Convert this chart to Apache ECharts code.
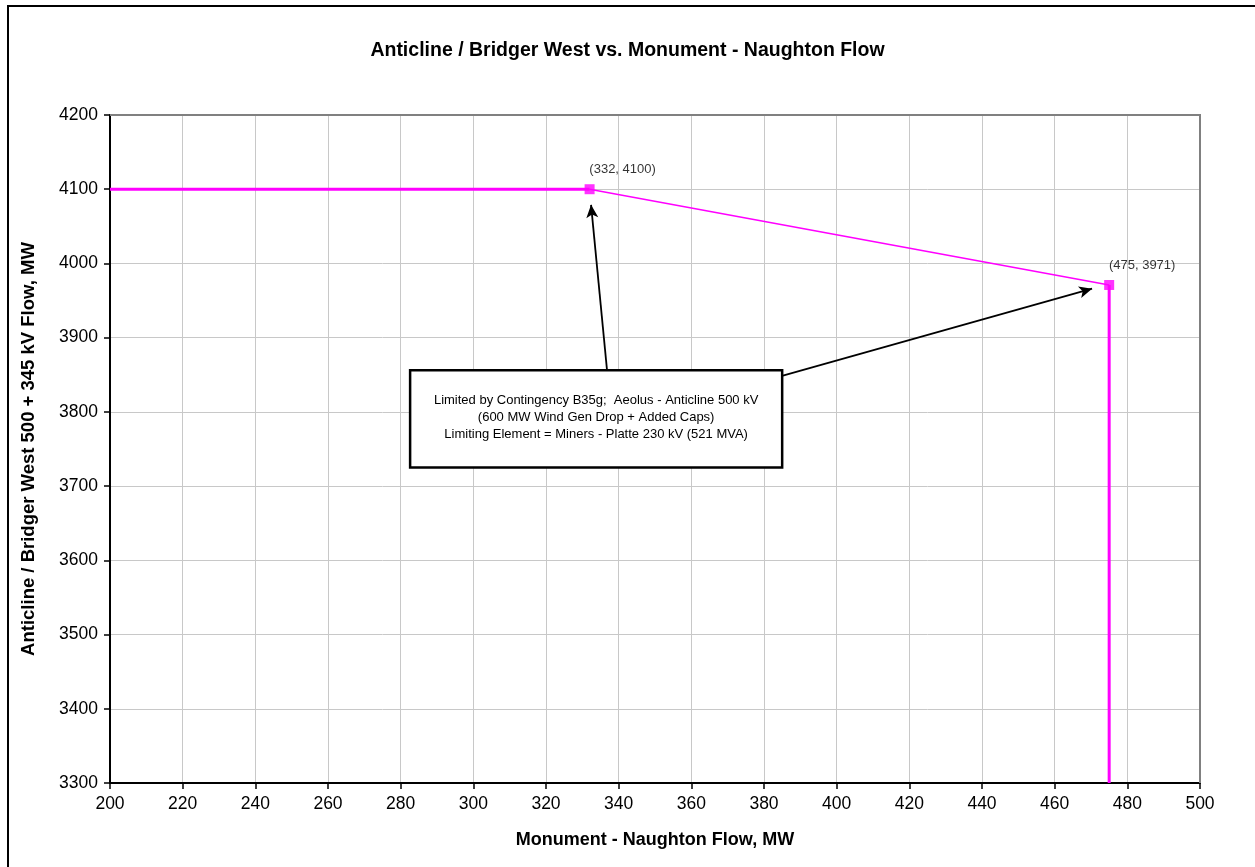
<!DOCTYPE html>
<html>
<head>
<meta charset="utf-8">
<script src="https://cdn.jsdelivr.net/npm/echarts@6/dist/echarts.min.js"></script>
<style>
  html, body { margin: 0; padding: 0; background: #fff; }
  #chart { width: 1255px; height: 867px; }
</style>
</head>
<body>
<div id="chart"></div>
<script>
// limit curve pieces
const flatSegment = [[200, 4100], [332, 4100]];
const slopeSegment = [[332, 4100], [475, 3971]];
const dropSegment = [[475, 3971], [475, 3300]];
const cornerPoints = [[332, 4100], [475, 3971]];
const cornerLabels = ['(332, 4100)', '(475, 3971)'];

// annotation: arrows (tail -> head, data coords) and text box
const arrowLines = [
  [[336.8, 3856], [332.4, 4079]],
  [[385.2, 3849], [470.3, 3966]]
];
const noteBox = [[282.6, 3856], [385.0, 3725]];
const noteLines = [
  'Limited by Contingency B35g;  Aeolus - Anticline 500 kV',
  '(600 MW Wind Gen Drop + Added Caps)',
  'Limiting Element = Miners - Platte 230 kV (521 MVA)'
];

const FONT = '"Liberation Sans", Arial, sans-serif';
const PINK = '#ff00ff';
const plain = v => String(v);

const chart = echarts.init(document.getElementById('chart'));

const option = {
  animation: false,
  textStyle: { fontFamily: FONT },
  title: {
    text: 'Anticline / Bridger West vs. Monument - Naughton Flow',
    left: 'center',
    top: 36,
    textStyle: { fontFamily: FONT, fontSize: 19.5, fontWeight: 'bold', color: '#000' }
  },
  grid: { left: 110, right: 55, top: 115, bottom: 84, show: false },
  xAxis: {
    type: 'value',
    min: 200, max: 500, interval: 20,
    name: 'Monument - Naughton Flow, MW',
    nameLocation: 'middle',
    nameGap: 48,
    nameTextStyle: { fontFamily: FONT, fontSize: 18, fontWeight: 'bold', color: '#000' },
    axisLine: { show: true, onZero: false, lineStyle: { color: '#000', width: 2 } },
    axisTick: { show: true, length: 6, lineStyle: { color: '#000', width: 1.5 } },
    axisLabel: { fontFamily: FONT, fontSize: 17.5, color: '#000', margin: 12, formatter: plain },
    splitLine: { show: true, lineStyle: { color: '#c8c8c8', width: 1 } }
  },
  yAxis: {
    type: 'value',
    min: 3300, max: 4200, interval: 100,
    name: 'Anticline / Bridger West 500 + 345 kV Flow, MW',
    nameLocation: 'middle',
    nameGap: 72,
    nameTextStyle: { fontFamily: FONT, fontSize: 18.5, fontWeight: 'bold', color: '#000' },
    axisLine: { show: true, onZero: false, lineStyle: { color: '#000', width: 2 } },
    axisTick: { show: true, length: 6, lineStyle: { color: '#000', width: 1.5 } },
    axisLabel: { fontFamily: FONT, fontSize: 17.5, color: '#000', margin: 12, formatter: plain },
    splitLine: { show: true, lineStyle: { color: '#c8c8c8', width: 1 } }
  },
  series: [
    {
      type: 'line', data: flatSegment, showSymbol: false, symbol: 'none',
      lineStyle: { color: PINK, width: 3 }, z: 3
    },
    {
      type: 'line', data: slopeSegment, showSymbol: false, symbol: 'none',
      lineStyle: { color: PINK, width: 1.5 }, z: 3
    },
    {
      type: 'line', data: dropSegment, showSymbol: false, symbol: 'none',
      lineStyle: { color: PINK, width: 3 }, z: 3
    },
    {
      type: 'scatter',
      data: cornerPoints.map((p, i) => ({ value: p, label: { formatter: cornerLabels[i] } })),
      symbol: 'rect',
      symbolSize: 10,
      itemStyle: { color: PINK },
      z: 4,
      label: {
        show: true,
        position: 'top',
        offset: [33, -3],
        fontFamily: FONT,
        fontSize: 13,
        color: '#000'
      }
    },
    {
      type: 'line', data: [], z: 5,
      markLine: {
        silent: true,
        symbol: ['none', 'arrow'],
        symbolSize: [9, 13],
        label: { show: false },
        lineStyle: { color: '#000', width: 1.8, type: 'solid' },
        data: arrowLines.map(a => [{ coord: a[0] }, { coord: a[1] }])
      }
    }
  ]
};

chart.setOption(option);

// plot frame, outer border and note box positioned from data/grid
const p0 = chart.convertToPixel('grid', noteBox[0]);
const p1 = chart.convertToPixel('grid', noteBox[1]);
const tl = chart.convertToPixel('grid', [200, 4200]);
const br = chart.convertToPixel('grid', [500, 3300]);
const cx = (p0[0] + p1[0]) / 2;
const cy = (p0[1] + p1[1]) / 2;

chart.setOption({
  graphic: [
    {
      type: 'rect',
      shape: { x: 8, y: 6, width: 1260, height: 880 },
      style: { fill: 'none', stroke: '#000', lineWidth: 2 },
      silent: true
    },
    {
      type: 'polyline',
      shape: { points: [[tl[0], tl[1]], [br[0], tl[1]], [br[0], br[1]]] },
      style: { fill: 'none', stroke: '#808080', lineWidth: 2 },
      silent: true, z: 1
    },
    {
      type: 'rect',
      shape: { x: p0[0], y: p0[1], width: p1[0] - p0[0], height: p1[1] - p0[1] },
      style: { fill: '#fff', stroke: '#000', lineWidth: 2.5 },
      z: 10, silent: true
    },
    {
      type: 'text',
      x: cx, y: cy - 2,
      style: {
        text: noteLines.join('\n'),
        font: '13px ' + FONT,
        fill: '#000',
        align: 'center',
        verticalAlign: 'middle',
        lineHeight: 17
      },
      z: 11, silent: true
    }
  ]
});
</script>
</body>
</html>
